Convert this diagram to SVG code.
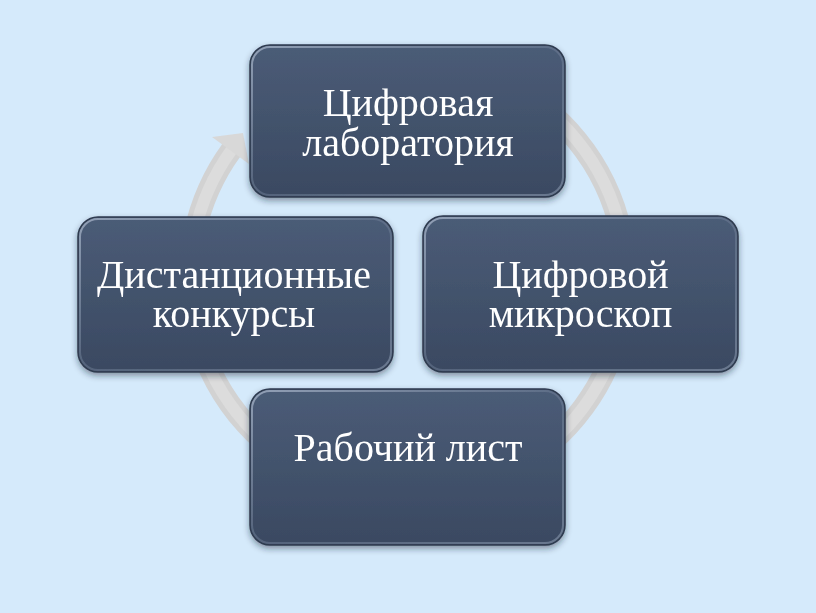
<svg xmlns="http://www.w3.org/2000/svg" width="816" height="613" viewBox="0 0 816 613">
  <defs>
    <linearGradient id="boxFill" x1="0" y1="0" x2="0" y2="1">
      <stop offset="0" stop-color="#4b5c77"/>
      <stop offset="1" stop-color="#3a4961"/>
    </linearGradient>
    <linearGradient id="bevel" x1="0" y1="0" x2="1" y2="1">
      <stop offset="0" stop-color="#9aa8bd" stop-opacity="0.9"/>
      <stop offset="0.5" stop-color="#7a89a0" stop-opacity="0.4"/>
      <stop offset="1" stop-color="#8a98ae" stop-opacity="0.6"/>
    </linearGradient>
    <filter id="shadow" x="-10%" y="-10%" width="120%" height="130%">
      <feDropShadow dx="0" dy="3" stdDeviation="3" flood-color="#1c2533" flood-opacity="0.45"/>
    </filter>
  </defs>
  <style>
    .box { fill: url(#boxFill); stroke: #2f3b4f; stroke-width: 1.5; }
    .rim { fill: none; stroke: url(#bevel); stroke-width: 2; }
    .lbl { font-family: "Liberation Serif", "Times New Roman", serif; font-size: 40px; fill: #ffffff; text-anchor: middle; }
    .ring { fill: none; stroke: #d2d2d2; stroke-width: 22; }
    .ringHi { fill: none; stroke: #dcdcdc; stroke-width: 12; }
  </style>
  <rect x="0" y="0" width="816" height="613" fill="#d5eafb"/>

  <g id="connectors">
    <path class="ring" d="M 408 60 A 218 218 0 1 1 231.5 150"/>
    <path class="ringHi" d="M 408 60 A 218 218 0 1 1 231.5 150"/>
    <polygon points="212,137 243,133 249,164" fill="#d8d8d8"/>
  </g>

  <g id="node-top" filter="url(#shadow)">
    <rect class="box" x="250" y="45" width="315" height="152" rx="20"/>
    <rect class="rim" x="252" y="47" width="311" height="148" rx="18"/>
    <text class="lbl" x="408" y="116">Цифровая</text>
    <text class="lbl" x="408" y="156">лаборатория</text>
  </g>

  <g id="node-right" filter="url(#shadow)">
    <rect class="box" x="423" y="216" width="315" height="156" rx="20"/>
    <rect class="rim" x="425" y="218" width="311" height="152" rx="18"/>
    <text class="lbl" x="580.5" y="288">Цифровой</text>
    <text class="lbl" x="580.5" y="327">микроскоп</text>
  </g>

  <g id="node-bottom" filter="url(#shadow)">
    <rect class="box" x="250" y="389" width="315" height="156" rx="20"/>
    <rect class="rim" x="252" y="391" width="311" height="152" rx="18"/>
    <text class="lbl" x="408" y="461">Рабочий лист</text>
  </g>

  <g id="node-left" filter="url(#shadow)">
    <rect class="box" x="78" y="217" width="315" height="155" rx="20"/>
    <rect class="rim" x="80" y="219" width="311" height="151" rx="18"/>
    <text class="lbl" x="234" y="288">Дистанционные</text>
    <text class="lbl" x="234" y="327">конкурсы</text>
  </g>
</svg>
